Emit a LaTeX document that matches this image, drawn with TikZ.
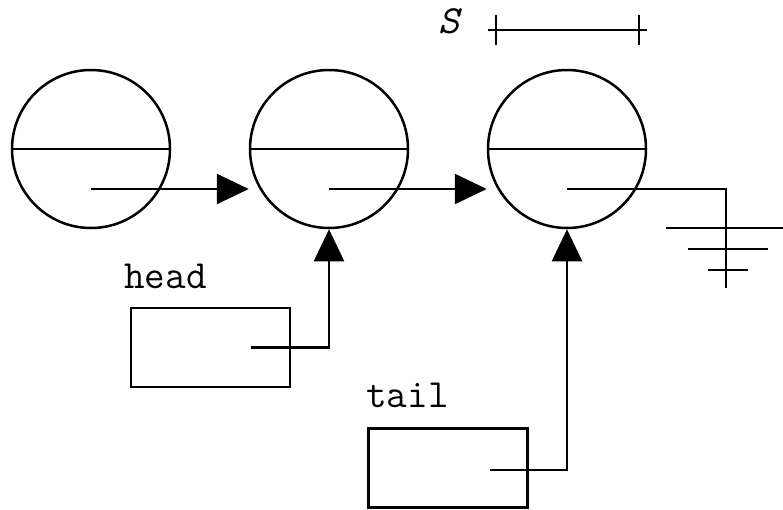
\documentclass[tikz,border=0pt]{standalone}
\usepackage{tikz}
\usetikzlibrary{arrows.meta,positioning,calc}

\tikzset{
  cell/.style={draw,circle,minimum size=158pt,inner sep=0pt},
  var/.style={draw,rectangle,minimum width=159pt,minimum height=79pt,inner sep=0pt},
  lbl/.style={font=\fontsize{40}{40}\selectfont\ttfamily,anchor=base west,inner sep=0pt},
  ptr/.style={-{Triangle[length=32pt,width=30pt]}}
}

\begin{document}
\begin{tikzpicture}[x=1pt,y=-1pt,line width=2.5pt]
          \useasboundingbox (0,0) rectangle (783,509);
          % list cells
          \node[cell] (n1) at (91,149) {};
          \node[cell] (n2) at (329,149) {};
          \node[cell] (n3) at (567,149) {};
          \foreach \c in {n1,n2,n3}
            \draw (\c.west) -- (\c.east);
          % next pointers
          \draw[ptr] ($(n1.center)+(0,40)$) -- (n2.west |- {$(n1.center)+(0,40)$});
          \draw[ptr] ($(n2.center)+(0,40)$) -- (n3.west |- {$(n2.center)+(0,40)$});
          % null pointer and ground
          \coordinate (gnd) at (726,189);
          \draw ($(n3.center)+(0,40)$) -- (gnd) -- ++(0,99);
          \draw ($(gnd)+(-60,39)$) -- ++(117,0);
          \draw ($(gnd)+(-38,60)$) -- ++(80,0);
          \draw ($(gnd)+(-18,81)$) -- ++(40,0);
          % head and tail
          \node[lbl] (hl) at (123,288) {head};
          \node[var] (head) at (210.5,347.5) {};
          \draw[ptr] ($(head.center)+(40,0)$) -| (n2.south);
          \node[lbl] (tl) at (365,407) {tail};
          \node[var] (tail) at (448,468) {};
          \draw[ptr] ($(tail.center)+(42,2)$) -| (n3.south);
          % size mark
          \node[font=\fontsize{40}{40}\selectfont\ttfamily\itshape] (s) at (449,21) {S};
          \coordinate (sa) at (488,30);
          \coordinate (sb) at (647,30);
          \draw (sa) -- (sb);
          \draw ($(sa)+(8,-15)$) -- ++(0,30);
          \draw ($(sb)+(-8,-15)$) -- ++(0,30);
\end{tikzpicture}
\end{document}
